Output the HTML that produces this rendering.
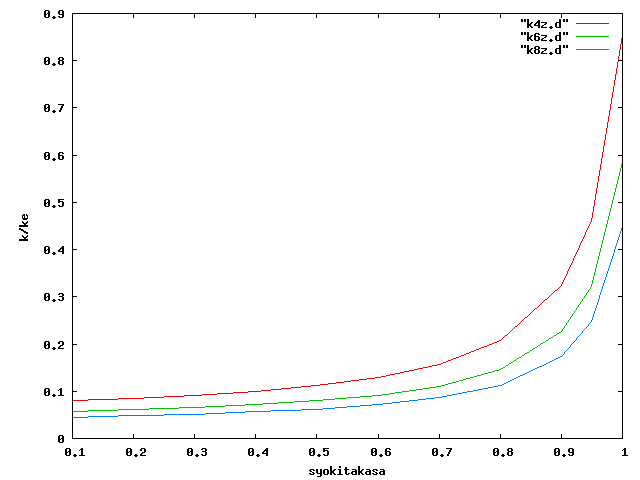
<!DOCTYPE html>
<html><head><meta charset="utf-8"><style>
html,body{margin:0;padding:0;background:#fff;width:640px;height:480px;overflow:hidden;font-family:"Liberation Sans",sans-serif}
svg{display:block}
</style></head><body>
<svg width="640" height="480" viewBox="0 0 640 480" shape-rendering="crispEdges">
<rect width="640" height="480" fill="#fff"/>
<path fill="#000" d="M45 10h4v1h-4zM59 10h4v1h-4zM44 11h2v1h-2zM48 11h2v1h-2zM58 11h2v1h-2zM62 11h2v1h-2zM44 12h2v1h-2zM48 12h2v1h-2zM58 12h2v1h-2zM62 12h2v1h-2zM44 13h2v1h-2zM47 13h3v1h-3zM58 13h2v1h-2zM62 13h2v1h-2zM72 13h551v1h-551zM44 14h3v1h-3zM48 14h2v1h-2zM59 14h5v1h-5zM72 14h1v1h-1zM133 14h1v1h-1zM194 14h1v1h-1zM255 14h1v1h-1zM316 14h1v1h-1zM378 14h1v1h-1zM439 14h1v1h-1zM500 14h1v1h-1zM561 14h1v1h-1zM622 14h1v1h-1zM44 15h2v1h-2zM48 15h2v1h-2zM62 15h2v1h-2zM72 15h1v1h-1zM133 15h1v1h-1zM194 15h1v1h-1zM255 15h1v1h-1zM316 15h1v1h-1zM378 15h1v1h-1zM439 15h1v1h-1zM500 15h1v1h-1zM561 15h1v1h-1zM622 15h1v1h-1zM44 16h2v1h-2zM48 16h2v1h-2zM53 16h2v1h-2zM58 16h2v1h-2zM62 16h2v1h-2zM72 16h1v1h-1zM133 16h1v1h-1zM194 16h1v1h-1zM255 16h1v1h-1zM316 16h1v1h-1zM378 16h1v1h-1zM439 16h1v1h-1zM500 16h1v1h-1zM561 16h1v1h-1zM622 16h1v1h-1zM45 17h4v1h-4zM52 17h4v1h-4zM59 17h4v1h-4zM72 17h1v1h-1zM133 17h1v1h-1zM194 17h1v1h-1zM255 17h1v1h-1zM316 17h1v1h-1zM378 17h1v1h-1zM439 17h1v1h-1zM500 17h1v1h-1zM561 17h1v1h-1zM622 17h1v1h-1zM53 18h2v1h-2zM72 18h1v1h-1zM622 18h1v1h-1zM72 19h1v1h-1zM521 19h2v1h-2zM524 19h2v1h-2zM527 19h2v1h-2zM559 19h2v1h-2zM563 19h2v1h-2zM566 19h2v1h-2zM622 19h1v1h-1zM72 20h1v1h-1zM521 20h2v1h-2zM524 20h2v1h-2zM527 20h2v1h-2zM538 20h2v1h-2zM559 20h2v1h-2zM563 20h2v1h-2zM566 20h2v1h-2zM622 20h1v1h-1zM72 21h1v1h-1zM521 21h2v1h-2zM524 21h2v1h-2zM527 21h2v1h-2zM537 21h3v1h-3zM559 21h2v1h-2zM563 21h2v1h-2zM566 21h2v1h-2zM622 21h1v1h-1zM72 22h1v1h-1zM527 22h2v1h-2zM531 22h2v1h-2zM536 22h4v1h-4zM541 22h6v1h-6zM556 22h5v1h-5zM622 22h1v1h-1zM72 23h1v1h-1zM527 23h2v1h-2zM530 23h2v1h-2zM535 23h2v1h-2zM538 23h2v1h-2zM545 23h2v1h-2zM555 23h2v1h-2zM559 23h2v1h-2zM622 23h1v1h-1zM72 24h1v1h-1zM527 24h4v1h-4zM534 24h2v1h-2zM538 24h2v1h-2zM544 24h2v1h-2zM555 24h2v1h-2zM559 24h2v1h-2zM622 24h1v1h-1zM72 25h1v1h-1zM527 25h4v1h-4zM534 25h6v1h-6zM542 25h2v1h-2zM555 25h2v1h-2zM559 25h2v1h-2zM622 25h1v1h-1zM72 26h1v1h-1zM527 26h2v1h-2zM530 26h2v1h-2zM538 26h2v1h-2zM541 26h2v1h-2zM550 26h2v1h-2zM555 26h2v1h-2zM559 26h2v1h-2zM622 26h1v1h-1zM72 27h1v1h-1zM527 27h2v1h-2zM531 27h2v1h-2zM538 27h2v1h-2zM541 27h6v1h-6zM549 27h4v1h-4zM556 27h5v1h-5zM622 27h1v1h-1zM72 28h1v1h-1zM550 28h2v1h-2zM622 28h1v1h-1zM72 29h1v1h-1zM622 29h1v1h-1zM72 30h1v1h-1zM622 30h1v1h-1zM72 31h1v1h-1zM622 31h1v1h-1zM72 32h1v1h-1zM521 32h2v1h-2zM524 32h2v1h-2zM527 32h2v1h-2zM559 32h2v1h-2zM563 32h2v1h-2zM566 32h2v1h-2zM622 32h1v1h-1zM72 33h1v1h-1zM521 33h2v1h-2zM524 33h2v1h-2zM527 33h2v1h-2zM535 33h4v1h-4zM559 33h2v1h-2zM563 33h2v1h-2zM566 33h2v1h-2zM622 33h1v1h-1zM72 34h1v1h-1zM521 34h2v1h-2zM524 34h2v1h-2zM527 34h2v1h-2zM534 34h2v1h-2zM538 34h2v1h-2zM559 34h2v1h-2zM563 34h2v1h-2zM566 34h2v1h-2zM622 34h1v1h-1zM72 35h1v1h-1zM527 35h2v1h-2zM531 35h2v1h-2zM534 35h2v1h-2zM541 35h6v1h-6zM556 35h5v1h-5zM622 35h1v1h-1zM72 36h1v1h-1zM527 36h2v1h-2zM530 36h2v1h-2zM534 36h5v1h-5zM545 36h2v1h-2zM555 36h2v1h-2zM559 36h2v1h-2zM622 36h1v1h-1zM72 37h1v1h-1zM527 37h4v1h-4zM534 37h2v1h-2zM538 37h2v1h-2zM544 37h2v1h-2zM555 37h2v1h-2zM559 37h2v1h-2zM622 37h1v1h-1zM72 38h1v1h-1zM527 38h4v1h-4zM534 38h2v1h-2zM538 38h2v1h-2zM542 38h2v1h-2zM555 38h2v1h-2zM559 38h2v1h-2zM622 38h1v1h-1zM72 39h1v1h-1zM527 39h2v1h-2zM530 39h2v1h-2zM534 39h2v1h-2zM538 39h2v1h-2zM541 39h2v1h-2zM550 39h2v1h-2zM555 39h2v1h-2zM559 39h2v1h-2zM622 39h1v1h-1zM72 40h1v1h-1zM527 40h2v1h-2zM531 40h2v1h-2zM535 40h4v1h-4zM541 40h6v1h-6zM549 40h4v1h-4zM556 40h5v1h-5zM622 40h1v1h-1zM72 41h1v1h-1zM550 41h2v1h-2zM622 41h1v1h-1zM72 42h1v1h-1zM622 42h1v1h-1zM72 43h1v1h-1zM622 43h1v1h-1zM72 44h1v1h-1zM622 44h1v1h-1zM72 45h1v1h-1zM521 45h2v1h-2zM524 45h2v1h-2zM527 45h2v1h-2zM559 45h2v1h-2zM563 45h2v1h-2zM566 45h2v1h-2zM622 45h1v1h-1zM72 46h1v1h-1zM521 46h2v1h-2zM524 46h2v1h-2zM527 46h2v1h-2zM535 46h4v1h-4zM559 46h2v1h-2zM563 46h2v1h-2zM566 46h2v1h-2zM622 46h1v1h-1zM72 47h1v1h-1zM521 47h2v1h-2zM524 47h2v1h-2zM527 47h2v1h-2zM534 47h2v1h-2zM538 47h2v1h-2zM559 47h2v1h-2zM563 47h2v1h-2zM566 47h2v1h-2zM622 47h1v1h-1zM72 48h1v1h-1zM527 48h2v1h-2zM531 48h2v1h-2zM534 48h2v1h-2zM538 48h2v1h-2zM541 48h6v1h-6zM556 48h5v1h-5zM622 48h1v1h-1zM72 49h1v1h-1zM527 49h2v1h-2zM530 49h2v1h-2zM535 49h4v1h-4zM545 49h2v1h-2zM555 49h2v1h-2zM559 49h2v1h-2zM622 49h1v1h-1zM72 50h1v1h-1zM527 50h4v1h-4zM534 50h2v1h-2zM538 50h2v1h-2zM544 50h2v1h-2zM555 50h2v1h-2zM559 50h2v1h-2zM622 50h1v1h-1zM72 51h1v1h-1zM527 51h4v1h-4zM534 51h2v1h-2zM538 51h2v1h-2zM542 51h2v1h-2zM555 51h2v1h-2zM559 51h2v1h-2zM622 51h1v1h-1zM72 52h1v1h-1zM527 52h2v1h-2zM530 52h2v1h-2zM534 52h2v1h-2zM538 52h2v1h-2zM541 52h2v1h-2zM550 52h2v1h-2zM555 52h2v1h-2zM559 52h2v1h-2zM622 52h1v1h-1zM72 53h1v1h-1zM527 53h2v1h-2zM531 53h2v1h-2zM535 53h4v1h-4zM541 53h6v1h-6zM549 53h4v1h-4zM556 53h5v1h-5zM622 53h1v1h-1zM72 54h1v1h-1zM550 54h2v1h-2zM622 54h1v1h-1zM72 55h1v1h-1zM622 55h1v1h-1zM72 56h1v1h-1zM622 56h1v1h-1zM45 57h4v1h-4zM59 57h4v1h-4zM72 57h1v1h-1zM622 57h1v1h-1zM44 58h2v1h-2zM48 58h2v1h-2zM58 58h2v1h-2zM62 58h2v1h-2zM72 58h1v1h-1zM622 58h1v1h-1zM44 59h2v1h-2zM48 59h2v1h-2zM58 59h2v1h-2zM62 59h2v1h-2zM72 59h1v1h-1zM622 59h1v1h-1zM44 60h2v1h-2zM47 60h3v1h-3zM59 60h4v1h-4zM72 60h5v1h-5zM618 60h5v1h-5zM44 61h3v1h-3zM48 61h2v1h-2zM58 61h2v1h-2zM62 61h2v1h-2zM72 61h1v1h-1zM622 61h1v1h-1zM44 62h2v1h-2zM48 62h2v1h-2zM58 62h2v1h-2zM62 62h2v1h-2zM72 62h1v1h-1zM622 62h1v1h-1zM44 63h2v1h-2zM48 63h2v1h-2zM53 63h2v1h-2zM58 63h2v1h-2zM62 63h2v1h-2zM72 63h1v1h-1zM622 63h1v1h-1zM45 64h4v1h-4zM52 64h4v1h-4zM59 64h4v1h-4zM72 64h1v1h-1zM622 64h1v1h-1zM53 65h2v1h-2zM72 65h1v1h-1zM622 65h1v1h-1zM72 66h1v1h-1zM622 66h1v1h-1zM72 67h1v1h-1zM622 67h1v1h-1zM72 68h1v1h-1zM622 68h1v1h-1zM72 69h1v1h-1zM622 69h1v1h-1zM72 70h1v1h-1zM622 70h1v1h-1zM72 71h1v1h-1zM622 71h1v1h-1zM72 72h1v1h-1zM622 72h1v1h-1zM72 73h1v1h-1zM622 73h1v1h-1zM72 74h1v1h-1zM622 74h1v1h-1zM72 75h1v1h-1zM622 75h1v1h-1zM72 76h1v1h-1zM622 76h1v1h-1zM72 77h1v1h-1zM622 77h1v1h-1zM72 78h1v1h-1zM622 78h1v1h-1zM72 79h1v1h-1zM622 79h1v1h-1zM72 80h1v1h-1zM622 80h1v1h-1zM72 81h1v1h-1zM622 81h1v1h-1zM72 82h1v1h-1zM622 82h1v1h-1zM72 83h1v1h-1zM622 83h1v1h-1zM72 84h1v1h-1zM622 84h1v1h-1zM72 85h1v1h-1zM622 85h1v1h-1zM72 86h1v1h-1zM622 86h1v1h-1zM72 87h1v1h-1zM622 87h1v1h-1zM72 88h1v1h-1zM622 88h1v1h-1zM72 89h1v1h-1zM622 89h1v1h-1zM72 90h1v1h-1zM622 90h1v1h-1zM72 91h1v1h-1zM622 91h1v1h-1zM72 92h1v1h-1zM622 92h1v1h-1zM72 93h1v1h-1zM622 93h1v1h-1zM72 94h1v1h-1zM622 94h1v1h-1zM72 95h1v1h-1zM622 95h1v1h-1zM72 96h1v1h-1zM622 96h1v1h-1zM72 97h1v1h-1zM622 97h1v1h-1zM72 98h1v1h-1zM622 98h1v1h-1zM72 99h1v1h-1zM622 99h1v1h-1zM72 100h1v1h-1zM622 100h1v1h-1zM72 101h1v1h-1zM622 101h1v1h-1zM72 102h1v1h-1zM622 102h1v1h-1zM72 103h1v1h-1zM622 103h1v1h-1zM45 104h4v1h-4zM58 104h6v1h-6zM72 104h1v1h-1zM622 104h1v1h-1zM44 105h2v1h-2zM48 105h2v1h-2zM62 105h2v1h-2zM72 105h1v1h-1zM622 105h1v1h-1zM44 106h2v1h-2zM48 106h2v1h-2zM61 106h2v1h-2zM72 106h1v1h-1zM622 106h1v1h-1zM44 107h2v1h-2zM47 107h3v1h-3zM61 107h2v1h-2zM72 107h5v1h-5zM618 107h5v1h-5zM44 108h3v1h-3zM48 108h2v1h-2zM60 108h2v1h-2zM72 108h1v1h-1zM622 108h1v1h-1zM44 109h2v1h-2zM48 109h2v1h-2zM60 109h2v1h-2zM72 109h1v1h-1zM622 109h1v1h-1zM44 110h2v1h-2zM48 110h2v1h-2zM53 110h2v1h-2zM59 110h2v1h-2zM72 110h1v1h-1zM622 110h1v1h-1zM45 111h4v1h-4zM52 111h4v1h-4zM59 111h2v1h-2zM72 111h1v1h-1zM622 111h1v1h-1zM53 112h2v1h-2zM72 112h1v1h-1zM622 112h1v1h-1zM72 113h1v1h-1zM622 113h1v1h-1zM72 114h1v1h-1zM622 114h1v1h-1zM72 115h1v1h-1zM622 115h1v1h-1zM72 116h1v1h-1zM622 116h1v1h-1zM72 117h1v1h-1zM622 117h1v1h-1zM72 118h1v1h-1zM622 118h1v1h-1zM72 119h1v1h-1zM622 119h1v1h-1zM72 120h1v1h-1zM622 120h1v1h-1zM72 121h1v1h-1zM622 121h1v1h-1zM72 122h1v1h-1zM622 122h1v1h-1zM72 123h1v1h-1zM622 123h1v1h-1zM72 124h1v1h-1zM622 124h1v1h-1zM72 125h1v1h-1zM622 125h1v1h-1zM72 126h1v1h-1zM622 126h1v1h-1zM72 127h1v1h-1zM622 127h1v1h-1zM72 128h1v1h-1zM622 128h1v1h-1zM72 129h1v1h-1zM622 129h1v1h-1zM72 130h1v1h-1zM622 130h1v1h-1zM72 131h1v1h-1zM622 131h1v1h-1zM72 132h1v1h-1zM622 132h1v1h-1zM72 133h1v1h-1zM622 133h1v1h-1zM72 134h1v1h-1zM622 134h1v1h-1zM72 135h1v1h-1zM622 135h1v1h-1zM72 136h1v1h-1zM622 136h1v1h-1zM72 137h1v1h-1zM622 137h1v1h-1zM72 138h1v1h-1zM622 138h1v1h-1zM72 139h1v1h-1zM622 139h1v1h-1zM72 140h1v1h-1zM622 140h1v1h-1zM72 141h1v1h-1zM622 141h1v1h-1zM72 142h1v1h-1zM622 142h1v1h-1zM72 143h1v1h-1zM622 143h1v1h-1zM72 144h1v1h-1zM622 144h1v1h-1zM72 145h1v1h-1zM622 145h1v1h-1zM72 146h1v1h-1zM622 146h1v1h-1zM72 147h1v1h-1zM622 147h1v1h-1zM72 148h1v1h-1zM622 148h1v1h-1zM72 149h1v1h-1zM622 149h1v1h-1zM72 150h1v1h-1zM622 150h1v1h-1zM72 151h1v1h-1zM622 151h1v1h-1zM45 152h4v1h-4zM59 152h4v1h-4zM72 152h1v1h-1zM622 152h1v1h-1zM44 153h2v1h-2zM48 153h2v1h-2zM58 153h2v1h-2zM62 153h2v1h-2zM72 153h1v1h-1zM622 153h1v1h-1zM44 154h2v1h-2zM48 154h2v1h-2zM58 154h2v1h-2zM72 154h1v1h-1zM622 154h1v1h-1zM44 155h2v1h-2zM47 155h3v1h-3zM58 155h5v1h-5zM72 155h5v1h-5zM618 155h5v1h-5zM44 156h3v1h-3zM48 156h2v1h-2zM58 156h2v1h-2zM62 156h2v1h-2zM72 156h1v1h-1zM622 156h1v1h-1zM44 157h2v1h-2zM48 157h2v1h-2zM58 157h2v1h-2zM62 157h2v1h-2zM72 157h1v1h-1zM622 157h1v1h-1zM44 158h2v1h-2zM48 158h2v1h-2zM53 158h2v1h-2zM58 158h2v1h-2zM62 158h2v1h-2zM72 158h1v1h-1zM622 158h1v1h-1zM45 159h4v1h-4zM52 159h4v1h-4zM59 159h4v1h-4zM72 159h1v1h-1zM622 159h1v1h-1zM53 160h2v1h-2zM72 160h1v1h-1zM622 160h1v1h-1zM72 161h1v1h-1zM622 161h1v1h-1zM72 162h1v1h-1zM622 162h1v1h-1zM72 163h1v1h-1zM622 163h1v1h-1zM72 164h1v1h-1zM622 164h1v1h-1zM72 165h1v1h-1zM622 165h1v1h-1zM72 166h1v1h-1zM622 166h1v1h-1zM72 167h1v1h-1zM622 167h1v1h-1zM72 168h1v1h-1zM622 168h1v1h-1zM72 169h1v1h-1zM622 169h1v1h-1zM72 170h1v1h-1zM622 170h1v1h-1zM72 171h1v1h-1zM622 171h1v1h-1zM72 172h1v1h-1zM622 172h1v1h-1zM72 173h1v1h-1zM622 173h1v1h-1zM72 174h1v1h-1zM622 174h1v1h-1zM72 175h1v1h-1zM622 175h1v1h-1zM72 176h1v1h-1zM622 176h1v1h-1zM72 177h1v1h-1zM622 177h1v1h-1zM72 178h1v1h-1zM622 178h1v1h-1zM72 179h1v1h-1zM622 179h1v1h-1zM72 180h1v1h-1zM622 180h1v1h-1zM72 181h1v1h-1zM622 181h1v1h-1zM72 182h1v1h-1zM622 182h1v1h-1zM72 183h1v1h-1zM622 183h1v1h-1zM72 184h1v1h-1zM622 184h1v1h-1zM72 185h1v1h-1zM622 185h1v1h-1zM72 186h1v1h-1zM622 186h1v1h-1zM72 187h1v1h-1zM622 187h1v1h-1zM72 188h1v1h-1zM622 188h1v1h-1zM72 189h1v1h-1zM622 189h1v1h-1zM72 190h1v1h-1zM622 190h1v1h-1zM72 191h1v1h-1zM622 191h1v1h-1zM72 192h1v1h-1zM622 192h1v1h-1zM72 193h1v1h-1zM622 193h1v1h-1zM72 194h1v1h-1zM622 194h1v1h-1zM72 195h1v1h-1zM622 195h1v1h-1zM72 196h1v1h-1zM622 196h1v1h-1zM72 197h1v1h-1zM622 197h1v1h-1zM72 198h1v1h-1zM622 198h1v1h-1zM45 199h4v1h-4zM58 199h6v1h-6zM72 199h1v1h-1zM622 199h1v1h-1zM44 200h2v1h-2zM48 200h2v1h-2zM58 200h2v1h-2zM72 200h1v1h-1zM622 200h1v1h-1zM44 201h2v1h-2zM48 201h2v1h-2zM58 201h5v1h-5zM72 201h1v1h-1zM622 201h1v1h-1zM44 202h2v1h-2zM47 202h3v1h-3zM58 202h2v1h-2zM62 202h2v1h-2zM72 202h5v1h-5zM618 202h5v1h-5zM44 203h3v1h-3zM48 203h2v1h-2zM62 203h2v1h-2zM72 203h1v1h-1zM622 203h1v1h-1zM44 204h2v1h-2zM48 204h2v1h-2zM62 204h2v1h-2zM72 204h1v1h-1zM622 204h1v1h-1zM44 205h2v1h-2zM48 205h2v1h-2zM53 205h2v1h-2zM58 205h2v1h-2zM62 205h2v1h-2zM72 205h1v1h-1zM622 205h1v1h-1zM45 206h4v1h-4zM52 206h4v1h-4zM59 206h4v1h-4zM72 206h1v1h-1zM622 206h1v1h-1zM53 207h2v1h-2zM72 207h1v1h-1zM622 207h1v1h-1zM72 208h1v1h-1zM622 208h1v1h-1zM72 209h1v1h-1zM622 209h1v1h-1zM72 210h1v1h-1zM622 210h1v1h-1zM72 211h1v1h-1zM622 211h1v1h-1zM72 212h1v1h-1zM622 212h1v1h-1zM72 213h1v1h-1zM622 213h1v1h-1zM23 214h2v1h-2zM26 214h1v1h-1zM72 214h1v1h-1zM622 214h1v1h-1zM22 215h3v1h-3zM26 215h2v1h-2zM72 215h1v1h-1zM622 215h1v1h-1zM22 216h1v1h-1zM24 216h1v1h-1zM27 216h1v1h-1zM72 216h1v1h-1zM622 216h1v1h-1zM22 217h1v1h-1zM24 217h1v1h-1zM27 217h1v1h-1zM72 217h1v1h-1zM622 217h1v1h-1zM22 218h6v1h-6zM72 218h1v1h-1zM622 218h1v1h-1zM23 219h4v1h-4zM72 219h1v1h-1zM622 219h1v1h-1zM72 220h1v1h-1zM622 220h1v1h-1zM22 221h1v1h-1zM27 221h1v1h-1zM72 221h1v1h-1zM622 221h1v1h-1zM22 222h2v1h-2zM26 222h2v1h-2zM72 222h1v1h-1zM622 222h1v1h-1zM23 223h4v1h-4zM72 223h1v1h-1zM622 223h1v1h-1zM24 224h2v1h-2zM72 224h1v1h-1zM622 224h1v1h-1zM19 225h9v1h-9zM72 225h1v1h-1zM622 225h1v1h-1zM19 226h9v1h-9zM72 226h1v1h-1zM622 226h1v1h-1zM72 227h1v1h-1zM622 227h1v1h-1zM19 228h2v1h-2zM72 228h1v1h-1zM622 228h1v1h-1zM19 229h4v1h-4zM72 229h1v1h-1zM622 229h1v1h-1zM21 230h3v1h-3zM72 230h1v1h-1zM622 230h1v1h-1zM23 231h3v1h-3zM72 231h1v1h-1zM622 231h1v1h-1zM24 232h4v1h-4zM72 232h1v1h-1zM622 232h1v1h-1zM26 233h2v1h-2zM72 233h1v1h-1zM622 233h1v1h-1zM72 234h1v1h-1zM622 234h1v1h-1zM22 235h1v1h-1zM27 235h1v1h-1zM72 235h1v1h-1zM622 235h1v1h-1zM22 236h2v1h-2zM26 236h2v1h-2zM72 236h1v1h-1zM622 236h1v1h-1zM23 237h4v1h-4zM72 237h1v1h-1zM622 237h1v1h-1zM24 238h2v1h-2zM72 238h1v1h-1zM622 238h1v1h-1zM19 239h9v1h-9zM72 239h1v1h-1zM622 239h1v1h-1zM19 240h9v1h-9zM72 240h1v1h-1zM622 240h1v1h-1zM72 241h1v1h-1zM622 241h1v1h-1zM72 242h1v1h-1zM622 242h1v1h-1zM72 243h1v1h-1zM622 243h1v1h-1zM72 244h1v1h-1zM622 244h1v1h-1zM72 245h1v1h-1zM622 245h1v1h-1zM45 246h4v1h-4zM62 246h2v1h-2zM72 246h1v1h-1zM622 246h1v1h-1zM44 247h2v1h-2zM48 247h2v1h-2zM61 247h3v1h-3zM72 247h1v1h-1zM622 247h1v1h-1zM44 248h2v1h-2zM48 248h2v1h-2zM60 248h4v1h-4zM72 248h1v1h-1zM622 248h1v1h-1zM44 249h2v1h-2zM47 249h3v1h-3zM59 249h2v1h-2zM62 249h2v1h-2zM72 249h5v1h-5zM618 249h5v1h-5zM44 250h3v1h-3zM48 250h2v1h-2zM58 250h2v1h-2zM62 250h2v1h-2zM72 250h1v1h-1zM622 250h1v1h-1zM44 251h2v1h-2zM48 251h2v1h-2zM58 251h6v1h-6zM72 251h1v1h-1zM622 251h1v1h-1zM44 252h2v1h-2zM48 252h2v1h-2zM53 252h2v1h-2zM62 252h2v1h-2zM72 252h1v1h-1zM622 252h1v1h-1zM45 253h4v1h-4zM52 253h4v1h-4zM62 253h2v1h-2zM72 253h1v1h-1zM622 253h1v1h-1zM53 254h2v1h-2zM72 254h1v1h-1zM622 254h1v1h-1zM72 255h1v1h-1zM622 255h1v1h-1zM72 256h1v1h-1zM622 256h1v1h-1zM72 257h1v1h-1zM622 257h1v1h-1zM72 258h1v1h-1zM622 258h1v1h-1zM72 259h1v1h-1zM622 259h1v1h-1zM72 260h1v1h-1zM622 260h1v1h-1zM72 261h1v1h-1zM622 261h1v1h-1zM72 262h1v1h-1zM622 262h1v1h-1zM72 263h1v1h-1zM622 263h1v1h-1zM72 264h1v1h-1zM622 264h1v1h-1zM72 265h1v1h-1zM622 265h1v1h-1zM72 266h1v1h-1zM622 266h1v1h-1zM72 267h1v1h-1zM622 267h1v1h-1zM72 268h1v1h-1zM622 268h1v1h-1zM72 269h1v1h-1zM622 269h1v1h-1zM72 270h1v1h-1zM622 270h1v1h-1zM72 271h1v1h-1zM622 271h1v1h-1zM72 272h1v1h-1zM622 272h1v1h-1zM72 273h1v1h-1zM622 273h1v1h-1zM72 274h1v1h-1zM622 274h1v1h-1zM72 275h1v1h-1zM622 275h1v1h-1zM72 276h1v1h-1zM622 276h1v1h-1zM72 277h1v1h-1zM622 277h1v1h-1zM72 278h1v1h-1zM622 278h1v1h-1zM72 279h1v1h-1zM622 279h1v1h-1zM72 280h1v1h-1zM622 280h1v1h-1zM72 281h1v1h-1zM622 281h1v1h-1zM72 282h1v1h-1zM622 282h1v1h-1zM72 283h1v1h-1zM622 283h1v1h-1zM72 284h1v1h-1zM622 284h1v1h-1zM72 285h1v1h-1zM622 285h1v1h-1zM72 286h1v1h-1zM622 286h1v1h-1zM72 287h1v1h-1zM622 287h1v1h-1zM72 288h1v1h-1zM622 288h1v1h-1zM72 289h1v1h-1zM622 289h1v1h-1zM72 290h1v1h-1zM622 290h1v1h-1zM72 291h1v1h-1zM622 291h1v1h-1zM72 292h1v1h-1zM622 292h1v1h-1zM45 293h4v1h-4zM59 293h4v1h-4zM72 293h1v1h-1zM622 293h1v1h-1zM44 294h2v1h-2zM48 294h2v1h-2zM58 294h2v1h-2zM62 294h2v1h-2zM72 294h1v1h-1zM622 294h1v1h-1zM44 295h2v1h-2zM48 295h2v1h-2zM62 295h2v1h-2zM72 295h1v1h-1zM622 295h1v1h-1zM44 296h2v1h-2zM47 296h3v1h-3zM59 296h4v1h-4zM72 296h5v1h-5zM618 296h5v1h-5zM44 297h3v1h-3zM48 297h2v1h-2zM62 297h2v1h-2zM72 297h1v1h-1zM622 297h1v1h-1zM44 298h2v1h-2zM48 298h2v1h-2zM62 298h2v1h-2zM72 298h1v1h-1zM622 298h1v1h-1zM44 299h2v1h-2zM48 299h2v1h-2zM53 299h2v1h-2zM58 299h2v1h-2zM62 299h2v1h-2zM72 299h1v1h-1zM622 299h1v1h-1zM45 300h4v1h-4zM52 300h4v1h-4zM59 300h4v1h-4zM72 300h1v1h-1zM622 300h1v1h-1zM53 301h2v1h-2zM72 301h1v1h-1zM622 301h1v1h-1zM72 302h1v1h-1zM622 302h1v1h-1zM72 303h1v1h-1zM622 303h1v1h-1zM72 304h1v1h-1zM622 304h1v1h-1zM72 305h1v1h-1zM622 305h1v1h-1zM72 306h1v1h-1zM622 306h1v1h-1zM72 307h1v1h-1zM622 307h1v1h-1zM72 308h1v1h-1zM622 308h1v1h-1zM72 309h1v1h-1zM622 309h1v1h-1zM72 310h1v1h-1zM622 310h1v1h-1zM72 311h1v1h-1zM622 311h1v1h-1zM72 312h1v1h-1zM622 312h1v1h-1zM72 313h1v1h-1zM622 313h1v1h-1zM72 314h1v1h-1zM622 314h1v1h-1zM72 315h1v1h-1zM622 315h1v1h-1zM72 316h1v1h-1zM622 316h1v1h-1zM72 317h1v1h-1zM622 317h1v1h-1zM72 318h1v1h-1zM622 318h1v1h-1zM72 319h1v1h-1zM622 319h1v1h-1zM72 320h1v1h-1zM622 320h1v1h-1zM72 321h1v1h-1zM622 321h1v1h-1zM72 322h1v1h-1zM622 322h1v1h-1zM72 323h1v1h-1zM622 323h1v1h-1zM72 324h1v1h-1zM622 324h1v1h-1zM72 325h1v1h-1zM622 325h1v1h-1zM72 326h1v1h-1zM622 326h1v1h-1zM72 327h1v1h-1zM622 327h1v1h-1zM72 328h1v1h-1zM622 328h1v1h-1zM72 329h1v1h-1zM622 329h1v1h-1zM72 330h1v1h-1zM622 330h1v1h-1zM72 331h1v1h-1zM622 331h1v1h-1zM72 332h1v1h-1zM622 332h1v1h-1zM72 333h1v1h-1zM622 333h1v1h-1zM72 334h1v1h-1zM622 334h1v1h-1zM72 335h1v1h-1zM622 335h1v1h-1zM72 336h1v1h-1zM622 336h1v1h-1zM72 337h1v1h-1zM622 337h1v1h-1zM72 338h1v1h-1zM622 338h1v1h-1zM72 339h1v1h-1zM622 339h1v1h-1zM72 340h1v1h-1zM622 340h1v1h-1zM45 341h4v1h-4zM59 341h4v1h-4zM72 341h1v1h-1zM622 341h1v1h-1zM44 342h2v1h-2zM48 342h2v1h-2zM58 342h2v1h-2zM62 342h2v1h-2zM72 342h1v1h-1zM622 342h1v1h-1zM44 343h2v1h-2zM48 343h2v1h-2zM58 343h2v1h-2zM62 343h2v1h-2zM72 343h1v1h-1zM622 343h1v1h-1zM44 344h2v1h-2zM47 344h3v1h-3zM62 344h2v1h-2zM72 344h5v1h-5zM618 344h5v1h-5zM44 345h3v1h-3zM48 345h2v1h-2zM60 345h3v1h-3zM72 345h1v1h-1zM622 345h1v1h-1zM44 346h2v1h-2zM48 346h2v1h-2zM59 346h2v1h-2zM72 346h1v1h-1zM622 346h1v1h-1zM44 347h2v1h-2zM48 347h2v1h-2zM53 347h2v1h-2zM58 347h2v1h-2zM72 347h1v1h-1zM622 347h1v1h-1zM45 348h4v1h-4zM52 348h4v1h-4zM58 348h6v1h-6zM72 348h1v1h-1zM622 348h1v1h-1zM53 349h2v1h-2zM72 349h1v1h-1zM622 349h1v1h-1zM72 350h1v1h-1zM622 350h1v1h-1zM72 351h1v1h-1zM622 351h1v1h-1zM72 352h1v1h-1zM622 352h1v1h-1zM72 353h1v1h-1zM622 353h1v1h-1zM72 354h1v1h-1zM622 354h1v1h-1zM72 355h1v1h-1zM622 355h1v1h-1zM72 356h1v1h-1zM622 356h1v1h-1zM72 357h1v1h-1zM622 357h1v1h-1zM72 358h1v1h-1zM622 358h1v1h-1zM72 359h1v1h-1zM622 359h1v1h-1zM72 360h1v1h-1zM622 360h1v1h-1zM72 361h1v1h-1zM622 361h1v1h-1zM72 362h1v1h-1zM622 362h1v1h-1zM72 363h1v1h-1zM622 363h1v1h-1zM72 364h1v1h-1zM622 364h1v1h-1zM72 365h1v1h-1zM622 365h1v1h-1zM72 366h1v1h-1zM622 366h1v1h-1zM72 367h1v1h-1zM622 367h1v1h-1zM72 368h1v1h-1zM622 368h1v1h-1zM72 369h1v1h-1zM622 369h1v1h-1zM72 370h1v1h-1zM622 370h1v1h-1zM72 371h1v1h-1zM622 371h1v1h-1zM72 372h1v1h-1zM622 372h1v1h-1zM72 373h1v1h-1zM622 373h1v1h-1zM72 374h1v1h-1zM622 374h1v1h-1zM72 375h1v1h-1zM622 375h1v1h-1zM72 376h1v1h-1zM622 376h1v1h-1zM72 377h1v1h-1zM622 377h1v1h-1zM72 378h1v1h-1zM622 378h1v1h-1zM72 379h1v1h-1zM622 379h1v1h-1zM72 380h1v1h-1zM622 380h1v1h-1zM72 381h1v1h-1zM622 381h1v1h-1zM72 382h1v1h-1zM622 382h1v1h-1zM72 383h1v1h-1zM622 383h1v1h-1zM72 384h1v1h-1zM622 384h1v1h-1zM72 385h1v1h-1zM622 385h1v1h-1zM72 386h1v1h-1zM622 386h1v1h-1zM72 387h1v1h-1zM622 387h1v1h-1zM45 388h4v1h-4zM60 388h2v1h-2zM72 388h1v1h-1zM622 388h1v1h-1zM44 389h2v1h-2zM48 389h2v1h-2zM59 389h3v1h-3zM72 389h1v1h-1zM622 389h1v1h-1zM44 390h2v1h-2zM48 390h2v1h-2zM58 390h1v1h-1zM60 390h2v1h-2zM72 390h1v1h-1zM622 390h1v1h-1zM44 391h2v1h-2zM47 391h3v1h-3zM60 391h2v1h-2zM72 391h5v1h-5zM618 391h5v1h-5zM44 392h3v1h-3zM48 392h2v1h-2zM60 392h2v1h-2zM72 392h1v1h-1zM622 392h1v1h-1zM44 393h2v1h-2zM48 393h2v1h-2zM60 393h2v1h-2zM72 393h1v1h-1zM622 393h1v1h-1zM44 394h2v1h-2zM48 394h2v1h-2zM53 394h2v1h-2zM60 394h2v1h-2zM72 394h1v1h-1zM622 394h1v1h-1zM45 395h4v1h-4zM52 395h4v1h-4zM58 395h6v1h-6zM72 395h1v1h-1zM622 395h1v1h-1zM53 396h2v1h-2zM72 396h1v1h-1zM622 396h1v1h-1zM72 397h1v1h-1zM622 397h1v1h-1zM72 398h1v1h-1zM622 398h1v1h-1zM72 399h1v1h-1zM622 399h1v1h-1zM72 400h1v1h-1zM622 400h1v1h-1zM72 401h1v1h-1zM622 401h1v1h-1zM72 402h1v1h-1zM622 402h1v1h-1zM72 403h1v1h-1zM622 403h1v1h-1zM72 404h1v1h-1zM622 404h1v1h-1zM72 405h1v1h-1zM622 405h1v1h-1zM72 406h1v1h-1zM622 406h1v1h-1zM72 407h1v1h-1zM622 407h1v1h-1zM72 408h1v1h-1zM622 408h1v1h-1zM72 409h1v1h-1zM622 409h1v1h-1zM72 410h1v1h-1zM622 410h1v1h-1zM72 411h1v1h-1zM622 411h1v1h-1zM72 412h1v1h-1zM622 412h1v1h-1zM72 413h1v1h-1zM622 413h1v1h-1zM72 414h1v1h-1zM622 414h1v1h-1zM72 415h1v1h-1zM622 415h1v1h-1zM72 416h1v1h-1zM622 416h1v1h-1zM72 417h1v1h-1zM622 417h1v1h-1zM72 418h1v1h-1zM622 418h1v1h-1zM72 419h1v1h-1zM622 419h1v1h-1zM72 420h1v1h-1zM622 420h1v1h-1zM72 421h1v1h-1zM622 421h1v1h-1zM72 422h1v1h-1zM622 422h1v1h-1zM72 423h1v1h-1zM622 423h1v1h-1zM72 424h1v1h-1zM622 424h1v1h-1zM72 425h1v1h-1zM622 425h1v1h-1zM72 426h1v1h-1zM622 426h1v1h-1zM72 427h1v1h-1zM622 427h1v1h-1zM72 428h1v1h-1zM622 428h1v1h-1zM72 429h1v1h-1zM622 429h1v1h-1zM72 430h1v1h-1zM622 430h1v1h-1zM72 431h1v1h-1zM622 431h1v1h-1zM72 432h1v1h-1zM622 432h1v1h-1zM72 433h1v1h-1zM622 433h1v1h-1zM72 434h1v1h-1zM133 434h1v1h-1zM194 434h1v1h-1zM255 434h1v1h-1zM316 434h1v1h-1zM378 434h1v1h-1zM439 434h1v1h-1zM500 434h1v1h-1zM561 434h1v1h-1zM622 434h1v1h-1zM59 435h4v1h-4zM72 435h1v1h-1zM133 435h1v1h-1zM194 435h1v1h-1zM255 435h1v1h-1zM316 435h1v1h-1zM378 435h1v1h-1zM439 435h1v1h-1zM500 435h1v1h-1zM561 435h1v1h-1zM622 435h1v1h-1zM58 436h2v1h-2zM62 436h2v1h-2zM72 436h1v1h-1zM133 436h1v1h-1zM194 436h1v1h-1zM255 436h1v1h-1zM316 436h1v1h-1zM378 436h1v1h-1zM439 436h1v1h-1zM500 436h1v1h-1zM561 436h1v1h-1zM622 436h1v1h-1zM58 437h2v1h-2zM62 437h2v1h-2zM72 437h1v1h-1zM133 437h1v1h-1zM194 437h1v1h-1zM255 437h1v1h-1zM316 437h1v1h-1zM378 437h1v1h-1zM439 437h1v1h-1zM500 437h1v1h-1zM561 437h1v1h-1zM622 437h1v1h-1zM58 438h2v1h-2zM61 438h3v1h-3zM72 438h551v1h-551zM58 439h3v1h-3zM62 439h2v1h-2zM58 440h2v1h-2zM62 440h2v1h-2zM58 441h2v1h-2zM62 441h2v1h-2zM59 442h4v1h-4zM66 448h4v1h-4zM81 448h2v1h-2zM127 448h4v1h-4zM141 448h4v1h-4zM188 448h4v1h-4zM202 448h4v1h-4zM249 448h4v1h-4zM266 448h2v1h-2zM310 448h4v1h-4zM323 448h6v1h-6zM372 448h4v1h-4zM386 448h4v1h-4zM433 448h4v1h-4zM446 448h6v1h-6zM494 448h4v1h-4zM508 448h4v1h-4zM555 448h4v1h-4zM569 448h4v1h-4zM624 448h2v1h-2zM65 449h2v1h-2zM69 449h2v1h-2zM80 449h3v1h-3zM126 449h2v1h-2zM130 449h2v1h-2zM140 449h2v1h-2zM144 449h2v1h-2zM187 449h2v1h-2zM191 449h2v1h-2zM201 449h2v1h-2zM205 449h2v1h-2zM248 449h2v1h-2zM252 449h2v1h-2zM265 449h3v1h-3zM309 449h2v1h-2zM313 449h2v1h-2zM323 449h2v1h-2zM371 449h2v1h-2zM375 449h2v1h-2zM385 449h2v1h-2zM389 449h2v1h-2zM432 449h2v1h-2zM436 449h2v1h-2zM450 449h2v1h-2zM493 449h2v1h-2zM497 449h2v1h-2zM507 449h2v1h-2zM511 449h2v1h-2zM554 449h2v1h-2zM558 449h2v1h-2zM568 449h2v1h-2zM572 449h2v1h-2zM623 449h3v1h-3zM65 450h2v1h-2zM69 450h2v1h-2zM79 450h1v1h-1zM81 450h2v1h-2zM126 450h2v1h-2zM130 450h2v1h-2zM140 450h2v1h-2zM144 450h2v1h-2zM187 450h2v1h-2zM191 450h2v1h-2zM205 450h2v1h-2zM248 450h2v1h-2zM252 450h2v1h-2zM264 450h4v1h-4zM309 450h2v1h-2zM313 450h2v1h-2zM323 450h5v1h-5zM371 450h2v1h-2zM375 450h2v1h-2zM385 450h2v1h-2zM432 450h2v1h-2zM436 450h2v1h-2zM449 450h2v1h-2zM493 450h2v1h-2zM497 450h2v1h-2zM507 450h2v1h-2zM511 450h2v1h-2zM554 450h2v1h-2zM558 450h2v1h-2zM568 450h2v1h-2zM572 450h2v1h-2zM622 450h1v1h-1zM624 450h2v1h-2zM65 451h2v1h-2zM68 451h3v1h-3zM81 451h2v1h-2zM126 451h2v1h-2zM129 451h3v1h-3zM144 451h2v1h-2zM187 451h2v1h-2zM190 451h3v1h-3zM202 451h4v1h-4zM248 451h2v1h-2zM251 451h3v1h-3zM263 451h2v1h-2zM266 451h2v1h-2zM309 451h2v1h-2zM312 451h3v1h-3zM323 451h2v1h-2zM327 451h2v1h-2zM371 451h2v1h-2zM374 451h3v1h-3zM385 451h5v1h-5zM432 451h2v1h-2zM435 451h3v1h-3zM449 451h2v1h-2zM493 451h2v1h-2zM496 451h3v1h-3zM508 451h4v1h-4zM554 451h2v1h-2zM557 451h3v1h-3zM568 451h2v1h-2zM572 451h2v1h-2zM624 451h2v1h-2zM65 452h3v1h-3zM69 452h2v1h-2zM81 452h2v1h-2zM126 452h3v1h-3zM130 452h2v1h-2zM142 452h3v1h-3zM187 452h3v1h-3zM191 452h2v1h-2zM205 452h2v1h-2zM248 452h3v1h-3zM252 452h2v1h-2zM262 452h2v1h-2zM266 452h2v1h-2zM309 452h3v1h-3zM313 452h2v1h-2zM327 452h2v1h-2zM371 452h3v1h-3zM375 452h2v1h-2zM385 452h2v1h-2zM389 452h2v1h-2zM432 452h3v1h-3zM436 452h2v1h-2zM448 452h2v1h-2zM493 452h3v1h-3zM497 452h2v1h-2zM507 452h2v1h-2zM511 452h2v1h-2zM554 452h3v1h-3zM558 452h2v1h-2zM569 452h5v1h-5zM624 452h2v1h-2zM65 453h2v1h-2zM69 453h2v1h-2zM81 453h2v1h-2zM126 453h2v1h-2zM130 453h2v1h-2zM141 453h2v1h-2zM187 453h2v1h-2zM191 453h2v1h-2zM205 453h2v1h-2zM248 453h2v1h-2zM252 453h2v1h-2zM262 453h6v1h-6zM309 453h2v1h-2zM313 453h2v1h-2zM327 453h2v1h-2zM371 453h2v1h-2zM375 453h2v1h-2zM385 453h2v1h-2zM389 453h2v1h-2zM432 453h2v1h-2zM436 453h2v1h-2zM448 453h2v1h-2zM493 453h2v1h-2zM497 453h2v1h-2zM507 453h2v1h-2zM511 453h2v1h-2zM554 453h2v1h-2zM558 453h2v1h-2zM572 453h2v1h-2zM624 453h2v1h-2zM65 454h2v1h-2zM69 454h2v1h-2zM74 454h2v1h-2zM81 454h2v1h-2zM126 454h2v1h-2zM130 454h2v1h-2zM135 454h2v1h-2zM140 454h2v1h-2zM187 454h2v1h-2zM191 454h2v1h-2zM196 454h2v1h-2zM201 454h2v1h-2zM205 454h2v1h-2zM248 454h2v1h-2zM252 454h2v1h-2zM257 454h2v1h-2zM266 454h2v1h-2zM309 454h2v1h-2zM313 454h2v1h-2zM318 454h2v1h-2zM323 454h2v1h-2zM327 454h2v1h-2zM371 454h2v1h-2zM375 454h2v1h-2zM380 454h2v1h-2zM385 454h2v1h-2zM389 454h2v1h-2zM432 454h2v1h-2zM436 454h2v1h-2zM441 454h2v1h-2zM447 454h2v1h-2zM493 454h2v1h-2zM497 454h2v1h-2zM502 454h2v1h-2zM507 454h2v1h-2zM511 454h2v1h-2zM554 454h2v1h-2zM558 454h2v1h-2zM563 454h2v1h-2zM568 454h2v1h-2zM572 454h2v1h-2zM624 454h2v1h-2zM66 455h4v1h-4zM73 455h4v1h-4zM79 455h6v1h-6zM127 455h4v1h-4zM134 455h4v1h-4zM140 455h6v1h-6zM188 455h4v1h-4zM195 455h4v1h-4zM202 455h4v1h-4zM249 455h4v1h-4zM256 455h4v1h-4zM266 455h2v1h-2zM310 455h4v1h-4zM317 455h4v1h-4zM324 455h4v1h-4zM372 455h4v1h-4zM379 455h4v1h-4zM386 455h4v1h-4zM433 455h4v1h-4zM440 455h4v1h-4zM447 455h2v1h-2zM494 455h4v1h-4zM501 455h4v1h-4zM508 455h4v1h-4zM555 455h4v1h-4zM562 455h4v1h-4zM569 455h4v1h-4zM622 455h6v1h-6zM74 456h2v1h-2zM135 456h2v1h-2zM196 456h2v1h-2zM257 456h2v1h-2zM318 456h2v1h-2zM380 456h2v1h-2zM441 456h2v1h-2zM502 456h2v1h-2zM563 456h2v1h-2zM330 466h2v1h-2zM339 466h2v1h-2zM358 466h2v1h-2zM330 467h2v1h-2zM339 467h2v1h-2zM345 467h2v1h-2zM358 467h2v1h-2zM330 468h2v1h-2zM345 468h2v1h-2zM358 468h2v1h-2zM310 469h4v1h-4zM316 469h2v1h-2zM320 469h2v1h-2zM324 469h4v1h-4zM330 469h2v1h-2zM334 469h2v1h-2zM338 469h3v1h-3zM344 469h5v1h-5zM352 469h4v1h-4zM358 469h2v1h-2zM362 469h2v1h-2zM366 469h4v1h-4zM373 469h4v1h-4zM380 469h4v1h-4zM309 470h2v1h-2zM313 470h2v1h-2zM316 470h2v1h-2zM320 470h2v1h-2zM323 470h2v1h-2zM327 470h2v1h-2zM330 470h2v1h-2zM333 470h2v1h-2zM339 470h2v1h-2zM345 470h2v1h-2zM355 470h2v1h-2zM358 470h2v1h-2zM361 470h2v1h-2zM369 470h2v1h-2zM372 470h2v1h-2zM376 470h2v1h-2zM383 470h2v1h-2zM310 471h2v1h-2zM316 471h2v1h-2zM320 471h2v1h-2zM323 471h2v1h-2zM327 471h2v1h-2zM330 471h4v1h-4zM339 471h2v1h-2zM345 471h2v1h-2zM352 471h5v1h-5zM358 471h4v1h-4zM366 471h5v1h-5zM373 471h2v1h-2zM380 471h5v1h-5zM312 472h2v1h-2zM316 472h2v1h-2zM320 472h2v1h-2zM323 472h2v1h-2zM327 472h2v1h-2zM330 472h4v1h-4zM339 472h2v1h-2zM345 472h2v1h-2zM351 472h2v1h-2zM355 472h2v1h-2zM358 472h4v1h-4zM365 472h2v1h-2zM369 472h2v1h-2zM375 472h2v1h-2zM379 472h2v1h-2zM383 472h2v1h-2zM309 473h2v1h-2zM313 473h2v1h-2zM317 473h5v1h-5zM323 473h2v1h-2zM327 473h2v1h-2zM330 473h2v1h-2zM333 473h2v1h-2zM339 473h2v1h-2zM345 473h2v1h-2zM348 473h2v1h-2zM351 473h2v1h-2zM355 473h2v1h-2zM358 473h2v1h-2zM361 473h2v1h-2zM365 473h2v1h-2zM369 473h2v1h-2zM372 473h2v1h-2zM376 473h2v1h-2zM379 473h2v1h-2zM383 473h2v1h-2zM310 474h4v1h-4zM320 474h2v1h-2zM324 474h4v1h-4zM330 474h2v1h-2zM334 474h2v1h-2zM337 474h6v1h-6zM346 474h3v1h-3zM352 474h5v1h-5zM358 474h2v1h-2zM362 474h2v1h-2zM366 474h5v1h-5zM373 474h4v1h-4zM380 474h5v1h-5zM320 475h2v1h-2zM317 476h4v1h-4z"/>
<path fill="#f00" d="M576 23h33v1h-33zM621 38h1v1h-1zM621 39h1v1h-1zM621 40h1v1h-1zM621 41h1v1h-1zM621 42h1v1h-1zM621 43h1v1h-1zM620 44h1v1h-1zM620 45h1v1h-1zM620 46h1v1h-1zM620 47h1v1h-1zM620 48h1v1h-1zM620 49h1v1h-1zM619 50h1v1h-1zM619 51h1v1h-1zM619 52h1v1h-1zM619 53h1v1h-1zM619 54h1v1h-1zM619 55h1v1h-1zM618 56h1v1h-1zM618 57h1v1h-1zM618 58h1v1h-1zM618 59h1v1h-1zM618 61h1v1h-1zM617 62h1v1h-1zM617 63h1v1h-1zM617 64h1v1h-1zM617 65h1v1h-1zM617 66h1v1h-1zM617 67h1v1h-1zM616 68h1v1h-1zM616 69h1v1h-1zM616 70h1v1h-1zM616 71h1v1h-1zM616 72h1v1h-1zM616 73h1v1h-1zM615 74h1v1h-1zM615 75h1v1h-1zM615 76h1v1h-1zM615 77h1v1h-1zM615 78h1v1h-1zM615 79h1v1h-1zM614 80h1v1h-1zM614 81h1v1h-1zM614 82h1v1h-1zM614 83h1v1h-1zM614 84h1v1h-1zM614 85h1v1h-1zM613 86h1v1h-1zM613 87h1v1h-1zM613 88h1v1h-1zM613 89h1v1h-1zM613 90h1v1h-1zM613 91h1v1h-1zM612 92h1v1h-1zM612 93h1v1h-1zM612 94h1v1h-1zM612 95h1v1h-1zM612 96h1v1h-1zM612 97h1v1h-1zM611 98h1v1h-1zM611 99h1v1h-1zM611 100h1v1h-1zM611 101h1v1h-1zM611 102h1v1h-1zM611 103h1v1h-1zM610 104h1v1h-1zM610 105h1v1h-1zM610 106h1v1h-1zM610 107h1v1h-1zM610 108h1v1h-1zM610 109h1v1h-1zM609 110h1v1h-1zM609 111h1v1h-1zM609 112h1v1h-1zM609 113h1v1h-1zM609 114h1v1h-1zM609 115h1v1h-1zM608 116h1v1h-1zM608 117h1v1h-1zM608 118h1v1h-1zM608 119h1v1h-1zM608 120h1v1h-1zM608 121h1v1h-1zM607 122h1v1h-1zM607 123h1v1h-1zM607 124h1v1h-1zM607 125h1v1h-1zM607 126h1v1h-1zM607 127h1v1h-1zM606 128h1v1h-1zM606 129h1v1h-1zM606 130h1v1h-1zM606 131h1v1h-1zM606 132h1v1h-1zM606 133h1v1h-1zM605 134h1v1h-1zM605 135h1v1h-1zM605 136h1v1h-1zM605 137h1v1h-1zM605 138h1v1h-1zM605 139h1v1h-1zM604 140h1v1h-1zM604 141h1v1h-1zM604 142h1v1h-1zM604 143h1v1h-1zM604 144h1v1h-1zM604 145h1v1h-1zM603 146h1v1h-1zM603 147h1v1h-1zM603 148h1v1h-1zM603 149h1v1h-1zM603 150h1v1h-1zM603 151h1v1h-1zM602 152h1v1h-1zM602 153h1v1h-1zM602 154h1v1h-1zM602 155h1v1h-1zM602 156h1v1h-1zM602 157h1v1h-1zM601 158h1v1h-1zM601 159h1v1h-1zM601 160h1v1h-1zM601 161h1v1h-1zM601 162h1v1h-1zM601 163h1v1h-1zM600 164h1v1h-1zM600 165h1v1h-1zM600 166h1v1h-1zM600 167h1v1h-1zM600 168h1v1h-1zM600 169h1v1h-1zM599 170h1v1h-1zM599 171h1v1h-1zM599 172h1v1h-1zM599 173h1v1h-1zM599 174h1v1h-1zM599 175h1v1h-1zM598 176h1v1h-1zM598 177h1v1h-1zM598 178h1v1h-1zM598 179h1v1h-1zM598 180h1v1h-1zM598 181h1v1h-1zM597 182h1v1h-1zM597 183h1v1h-1zM597 184h1v1h-1zM597 185h1v1h-1zM597 186h1v1h-1zM597 187h1v1h-1zM596 188h1v1h-1zM596 189h1v1h-1zM596 190h1v1h-1zM596 191h1v1h-1zM596 192h1v1h-1zM596 193h1v1h-1zM595 194h1v1h-1zM595 195h1v1h-1zM595 196h1v1h-1zM595 197h1v1h-1zM595 198h1v1h-1zM595 199h1v1h-1zM594 200h1v1h-1zM594 201h1v1h-1zM594 202h1v1h-1zM594 203h1v1h-1zM594 204h1v1h-1zM594 205h1v1h-1zM593 206h1v1h-1zM593 207h1v1h-1zM593 208h1v1h-1zM593 209h1v1h-1zM593 210h1v1h-1zM593 211h1v1h-1zM592 212h1v1h-1zM592 213h1v1h-1zM592 214h1v1h-1zM592 215h1v1h-1zM592 216h1v1h-1zM592 217h1v1h-1zM591 218h1v1h-1zM591 219h1v1h-1zM591 220h1v1h-1zM591 221h1v1h-1zM590 222h1v1h-1zM590 223h1v1h-1zM589 224h1v1h-1zM589 225h1v1h-1zM588 226h1v1h-1zM588 227h1v1h-1zM587 228h1v1h-1zM587 229h1v1h-1zM586 230h1v1h-1zM586 231h1v1h-1zM585 232h1v1h-1zM585 233h1v1h-1zM585 234h1v1h-1zM584 235h1v1h-1zM584 236h1v1h-1zM583 237h1v1h-1zM583 238h1v1h-1zM582 239h1v1h-1zM582 240h1v1h-1zM581 241h1v1h-1zM581 242h1v1h-1zM580 243h1v1h-1zM580 244h1v1h-1zM579 245h1v1h-1zM579 246h1v1h-1zM579 247h1v1h-1zM578 248h1v1h-1zM578 249h1v1h-1zM577 250h1v1h-1zM577 251h1v1h-1zM576 252h1v1h-1zM576 253h1v1h-1zM575 254h1v1h-1zM575 255h1v1h-1zM574 256h1v1h-1zM574 257h1v1h-1zM573 258h1v1h-1zM573 259h1v1h-1zM573 260h1v1h-1zM572 261h1v1h-1zM572 262h1v1h-1zM571 263h1v1h-1zM571 264h1v1h-1zM570 265h1v1h-1zM570 266h1v1h-1zM569 267h1v1h-1zM569 268h1v1h-1zM568 269h1v1h-1zM568 270h1v1h-1zM567 271h1v1h-1zM567 272h1v1h-1zM567 273h1v1h-1zM566 274h1v1h-1zM566 275h1v1h-1zM565 276h1v1h-1zM565 277h1v1h-1zM564 278h1v1h-1zM564 279h1v1h-1zM563 280h1v1h-1zM563 281h1v1h-1zM562 282h1v1h-1zM562 283h1v1h-1zM561 284h1v1h-1zM561 285h1v1h-1zM560 286h1v1h-1zM559 287h1v1h-1zM558 288h1v1h-1zM557 289h1v1h-1zM555 290h2v1h-2zM554 291h1v1h-1zM553 292h1v1h-1zM552 293h1v1h-1zM551 294h1v1h-1zM550 295h1v1h-1zM549 296h1v1h-1zM548 297h1v1h-1zM547 298h1v1h-1zM545 299h2v1h-2zM544 300h1v1h-1zM543 301h1v1h-1zM542 302h1v1h-1zM541 303h1v1h-1zM540 304h1v1h-1zM539 305h1v1h-1zM538 306h1v1h-1zM537 307h1v1h-1zM535 308h2v1h-2zM534 309h1v1h-1zM533 310h1v1h-1zM532 311h1v1h-1zM531 312h1v1h-1zM530 313h1v1h-1zM529 314h1v1h-1zM528 315h1v1h-1zM527 316h1v1h-1zM525 317h2v1h-2zM524 318h1v1h-1zM523 319h1v1h-1zM522 320h1v1h-1zM521 321h1v1h-1zM520 322h1v1h-1zM519 323h1v1h-1zM518 324h1v1h-1zM517 325h1v1h-1zM515 326h2v1h-2zM514 327h1v1h-1zM513 328h1v1h-1zM512 329h1v1h-1zM511 330h1v1h-1zM510 331h1v1h-1zM509 332h1v1h-1zM508 333h1v1h-1zM507 334h1v1h-1zM505 335h2v1h-2zM504 336h1v1h-1zM503 337h1v1h-1zM502 338h1v1h-1zM501 339h1v1h-1zM499 340h2v1h-2zM497 341h2v1h-2zM494 342h3v1h-3zM492 343h2v1h-2zM489 344h3v1h-3zM487 345h2v1h-2zM484 346h3v1h-3zM481 347h3v1h-3zM479 348h2v1h-2zM476 349h3v1h-3zM474 350h2v1h-2zM471 351h3v1h-3zM469 352h2v1h-2zM466 353h3v1h-3zM464 354h2v1h-2zM461 355h3v1h-3zM459 356h2v1h-2zM456 357h3v1h-3zM453 358h3v1h-3zM451 359h2v1h-2zM448 360h3v1h-3zM446 361h2v1h-2zM443 362h3v1h-3zM441 363h2v1h-2zM437 364h4v1h-4zM432 365h5v1h-5zM428 366h4v1h-4zM423 367h5v1h-5zM418 368h5v1h-5zM414 369h4v1h-4zM409 370h5v1h-5zM404 371h5v1h-5zM400 372h4v1h-4zM395 373h5v1h-5zM390 374h5v1h-5zM386 375h4v1h-4zM381 376h5v1h-5zM375 377h6v1h-6zM367 378h8v1h-8zM359 379h8v1h-8zM351 380h8v1h-8zM344 381h7v1h-7zM336 382h8v1h-8zM328 383h8v1h-8zM320 384h8v1h-8zM311 385h9v1h-9zM301 386h10v1h-10zM291 387h10v1h-10zM281 388h10v1h-10zM271 389h10v1h-10zM261 390h10v1h-10zM248 391h13v1h-13zM233 392h15v1h-15zM217 393h16v1h-16zM202 394h15v1h-15zM184 395h18v1h-18zM164 396h20v1h-20zM144 397h20v1h-20zM118 398h26v1h-26zM88 399h30v1h-30zM73 400h15v1h-15z"/>
<path fill="#00c000" d="M576 36h33v1h-33zM621 164h1v1h-1zM621 165h1v1h-1zM621 166h1v1h-1zM621 167h1v1h-1zM620 168h1v1h-1zM620 169h1v1h-1zM620 170h1v1h-1zM620 171h1v1h-1zM619 172h1v1h-1zM619 173h1v1h-1zM619 174h1v1h-1zM619 175h1v1h-1zM618 176h1v1h-1zM618 177h1v1h-1zM618 178h1v1h-1zM618 179h1v1h-1zM617 180h1v1h-1zM617 181h1v1h-1zM617 182h1v1h-1zM617 183h1v1h-1zM616 184h1v1h-1zM616 185h1v1h-1zM616 186h1v1h-1zM616 187h1v1h-1zM615 188h1v1h-1zM615 189h1v1h-1zM615 190h1v1h-1zM615 191h1v1h-1zM614 192h1v1h-1zM614 193h1v1h-1zM614 194h1v1h-1zM614 195h1v1h-1zM613 196h1v1h-1zM613 197h1v1h-1zM613 198h1v1h-1zM613 199h1v1h-1zM612 200h1v1h-1zM612 201h1v1h-1zM612 202h1v1h-1zM612 203h1v1h-1zM611 204h1v1h-1zM611 205h1v1h-1zM611 206h1v1h-1zM611 207h1v1h-1zM610 208h1v1h-1zM610 209h1v1h-1zM610 210h1v1h-1zM610 211h1v1h-1zM609 212h1v1h-1zM609 213h1v1h-1zM609 214h1v1h-1zM609 215h1v1h-1zM608 216h1v1h-1zM608 217h1v1h-1zM608 218h1v1h-1zM608 219h1v1h-1zM607 220h1v1h-1zM607 221h1v1h-1zM607 222h1v1h-1zM607 223h1v1h-1zM606 224h1v1h-1zM606 225h1v1h-1zM606 226h1v1h-1zM606 227h1v1h-1zM605 228h1v1h-1zM605 229h1v1h-1zM605 230h1v1h-1zM605 231h1v1h-1zM604 232h1v1h-1zM604 233h1v1h-1zM604 234h1v1h-1zM604 235h1v1h-1zM603 236h1v1h-1zM603 237h1v1h-1zM603 238h1v1h-1zM603 239h1v1h-1zM602 240h1v1h-1zM602 241h1v1h-1zM602 242h1v1h-1zM602 243h1v1h-1zM601 244h1v1h-1zM601 245h1v1h-1zM601 246h1v1h-1zM601 247h1v1h-1zM600 248h1v1h-1zM600 249h1v1h-1zM600 250h1v1h-1zM600 251h1v1h-1zM599 252h1v1h-1zM599 253h1v1h-1zM599 254h1v1h-1zM599 255h1v1h-1zM598 256h1v1h-1zM598 257h1v1h-1zM598 258h1v1h-1zM598 259h1v1h-1zM597 260h1v1h-1zM597 261h1v1h-1zM597 262h1v1h-1zM597 263h1v1h-1zM596 264h1v1h-1zM596 265h1v1h-1zM596 266h1v1h-1zM596 267h1v1h-1zM595 268h1v1h-1zM595 269h1v1h-1zM595 270h1v1h-1zM595 271h1v1h-1zM594 272h1v1h-1zM594 273h1v1h-1zM594 274h1v1h-1zM594 275h1v1h-1zM593 276h1v1h-1zM593 277h1v1h-1zM593 278h1v1h-1zM593 279h1v1h-1zM592 280h1v1h-1zM592 281h1v1h-1zM592 282h1v1h-1zM592 283h1v1h-1zM591 284h1v1h-1zM591 285h1v1h-1zM591 286h1v1h-1zM590 287h1v1h-1zM590 288h1v1h-1zM589 289h1v1h-1zM588 290h1v1h-1zM588 291h1v1h-1zM587 292h1v1h-1zM586 293h1v1h-1zM586 294h1v1h-1zM585 295h1v1h-1zM584 296h1v1h-1zM584 297h1v1h-1zM583 298h1v1h-1zM582 299h1v1h-1zM582 300h1v1h-1zM581 301h1v1h-1zM580 302h1v1h-1zM580 303h1v1h-1zM579 304h1v1h-1zM578 305h1v1h-1zM578 306h1v1h-1zM577 307h1v1h-1zM576 308h1v1h-1zM576 309h1v1h-1zM575 310h1v1h-1zM574 311h1v1h-1zM574 312h1v1h-1zM573 313h1v1h-1zM572 314h1v1h-1zM572 315h1v1h-1zM571 316h1v1h-1zM570 317h1v1h-1zM570 318h1v1h-1zM569 319h1v1h-1zM568 320h1v1h-1zM568 321h1v1h-1zM567 322h1v1h-1zM566 323h1v1h-1zM566 324h1v1h-1zM565 325h1v1h-1zM564 326h1v1h-1zM564 327h1v1h-1zM563 328h1v1h-1zM562 329h1v1h-1zM562 330h1v1h-1zM561 331h1v1h-1zM559 332h2v1h-2zM557 333h2v1h-2zM556 334h1v1h-1zM554 335h2v1h-2zM553 336h1v1h-1zM551 337h2v1h-2zM549 338h2v1h-2zM548 339h1v1h-1zM546 340h2v1h-2zM545 341h1v1h-1zM543 342h2v1h-2zM541 343h2v1h-2zM540 344h1v1h-1zM538 345h2v1h-2zM537 346h1v1h-1zM535 347h2v1h-2zM533 348h2v1h-2zM532 349h1v1h-1zM530 350h2v1h-2zM529 351h1v1h-1zM527 352h2v1h-2zM525 353h2v1h-2zM524 354h1v1h-1zM522 355h2v1h-2zM521 356h1v1h-1zM519 357h2v1h-2zM517 358h2v1h-2zM516 359h1v1h-1zM514 360h2v1h-2zM513 361h1v1h-1zM511 362h2v1h-2zM509 363h2v1h-2zM508 364h1v1h-1zM506 365h2v1h-2zM505 366h1v1h-1zM503 367h2v1h-2zM501 368h2v1h-2zM499 369h2v1h-2zM495 370h4v1h-4zM492 371h3v1h-3zM488 372h4v1h-4zM484 373h4v1h-4zM481 374h3v1h-3zM477 375h4v1h-4zM474 376h3v1h-3zM470 377h4v1h-4zM466 378h4v1h-4zM463 379h3v1h-3zM459 380h4v1h-4zM456 381h3v1h-3zM452 382h4v1h-4zM448 383h4v1h-4zM445 384h3v1h-3zM441 385h4v1h-4zM436 386h5v1h-5zM429 387h7v1h-7zM423 388h6v1h-6zM416 389h7v1h-7zM409 390h7v1h-7zM402 391h7v1h-7zM395 392h7v1h-7zM389 393h6v1h-6zM382 394h7v1h-7zM372 395h10v1h-10zM360 396h12v1h-12zM347 397h13v1h-13zM335 398h12v1h-12zM323 399h12v1h-12zM309 400h14v1h-14zM294 401h15v1h-15zM278 402h16v1h-16zM263 403h15v1h-15zM245 404h18v1h-18zM225 405h20v1h-20zM205 406h20v1h-20zM179 407h26v1h-26zM149 408h30v1h-30zM118 409h31v1h-31zM88 410h30v1h-30zM73 411h15v1h-15z"/>
<path fill="#0080ff" d="M576 49h33v1h-33zM621 228h1v1h-1zM621 229h1v1h-1zM621 230h1v1h-1zM620 231h1v1h-1zM620 232h1v1h-1zM620 233h1v1h-1zM619 234h1v1h-1zM619 235h1v1h-1zM619 236h1v1h-1zM618 237h1v1h-1zM618 238h1v1h-1zM618 239h1v1h-1zM617 240h1v1h-1zM617 241h1v1h-1zM617 242h1v1h-1zM616 243h1v1h-1zM616 244h1v1h-1zM616 245h1v1h-1zM615 246h1v1h-1zM615 247h1v1h-1zM615 248h1v1h-1zM614 249h1v1h-1zM614 250h1v1h-1zM614 251h1v1h-1zM614 252h1v1h-1zM613 253h1v1h-1zM613 254h1v1h-1zM613 255h1v1h-1zM612 256h1v1h-1zM612 257h1v1h-1zM612 258h1v1h-1zM611 259h1v1h-1zM611 260h1v1h-1zM611 261h1v1h-1zM610 262h1v1h-1zM610 263h1v1h-1zM610 264h1v1h-1zM609 265h1v1h-1zM609 266h1v1h-1zM609 267h1v1h-1zM608 268h1v1h-1zM608 269h1v1h-1zM608 270h1v1h-1zM607 271h1v1h-1zM607 272h1v1h-1zM607 273h1v1h-1zM606 274h1v1h-1zM606 275h1v1h-1zM606 276h1v1h-1zM605 277h1v1h-1zM605 278h1v1h-1zM605 279h1v1h-1zM604 280h1v1h-1zM604 281h1v1h-1zM604 282h1v1h-1zM603 283h1v1h-1zM603 284h1v1h-1zM603 285h1v1h-1zM602 286h1v1h-1zM602 287h1v1h-1zM602 288h1v1h-1zM601 289h1v1h-1zM601 290h1v1h-1zM601 291h1v1h-1zM600 292h1v1h-1zM600 293h1v1h-1zM600 294h1v1h-1zM599 295h1v1h-1zM599 296h1v1h-1zM599 297h1v1h-1zM599 298h1v1h-1zM598 299h1v1h-1zM598 300h1v1h-1zM598 301h1v1h-1zM597 302h1v1h-1zM597 303h1v1h-1zM597 304h1v1h-1zM596 305h1v1h-1zM596 306h1v1h-1zM596 307h1v1h-1zM595 308h1v1h-1zM595 309h1v1h-1zM595 310h1v1h-1zM594 311h1v1h-1zM594 312h1v1h-1zM594 313h1v1h-1zM593 314h1v1h-1zM593 315h1v1h-1zM593 316h1v1h-1zM592 317h1v1h-1zM592 318h1v1h-1zM592 319h1v1h-1zM591 320h1v1h-1zM591 321h1v1h-1zM590 322h1v1h-1zM589 323h1v1h-1zM588 324h1v1h-1zM588 325h1v1h-1zM587 326h1v1h-1zM586 327h1v1h-1zM585 328h1v1h-1zM584 329h1v1h-1zM583 330h1v1h-1zM582 331h1v1h-1zM582 332h1v1h-1zM581 333h1v1h-1zM580 334h1v1h-1zM579 335h1v1h-1zM578 336h1v1h-1zM577 337h1v1h-1zM576 338h1v1h-1zM576 339h1v1h-1zM575 340h1v1h-1zM574 341h1v1h-1zM573 342h1v1h-1zM572 343h1v1h-1zM571 344h1v1h-1zM570 345h1v1h-1zM570 346h1v1h-1zM569 347h1v1h-1zM568 348h1v1h-1zM567 349h1v1h-1zM566 350h1v1h-1zM565 351h1v1h-1zM564 352h1v1h-1zM564 353h1v1h-1zM563 354h1v1h-1zM562 355h1v1h-1zM560 356h2v1h-2zM558 357h2v1h-2zM556 358h2v1h-2zM554 359h2v1h-2zM552 360h2v1h-2zM550 361h2v1h-2zM548 362h2v1h-2zM546 363h2v1h-2zM544 364h2v1h-2zM542 365h2v1h-2zM539 366h3v1h-3zM537 367h2v1h-2zM535 368h2v1h-2zM533 369h2v1h-2zM531 370h2v1h-2zM529 371h2v1h-2zM527 372h2v1h-2zM525 373h2v1h-2zM523 374h2v1h-2zM520 375h3v1h-3zM518 376h2v1h-2zM516 377h2v1h-2zM514 378h2v1h-2zM512 379h2v1h-2zM510 380h2v1h-2zM508 381h2v1h-2zM506 382h2v1h-2zM504 383h2v1h-2zM502 384h2v1h-2zM498 385h4v1h-4zM493 386h5v1h-5zM488 387h5v1h-5zM483 388h5v1h-5zM478 389h5v1h-5zM473 390h5v1h-5zM467 391h6v1h-6zM462 392h5v1h-5zM457 393h5v1h-5zM452 394h5v1h-5zM447 395h5v1h-5zM442 396h5v1h-5zM435 397h7v1h-7zM426 398h9v1h-9zM418 399h8v1h-8zM409 400h9v1h-9zM400 401h9v1h-9zM392 402h8v1h-8zM383 403h9v1h-9zM372 404h11v1h-11zM360 405h12v1h-12zM347 406h13v1h-13zM335 407h12v1h-12zM323 408h12v1h-12zM301 409h22v1h-22zM271 410h30v1h-30zM245 411h26v1h-26zM225 412h20v1h-20zM205 413h20v1h-20zM164 414h41v1h-41zM118 415h46v1h-46zM88 416h30v1h-30zM73 417h15v1h-15z"/>
</svg>
</body></html>
